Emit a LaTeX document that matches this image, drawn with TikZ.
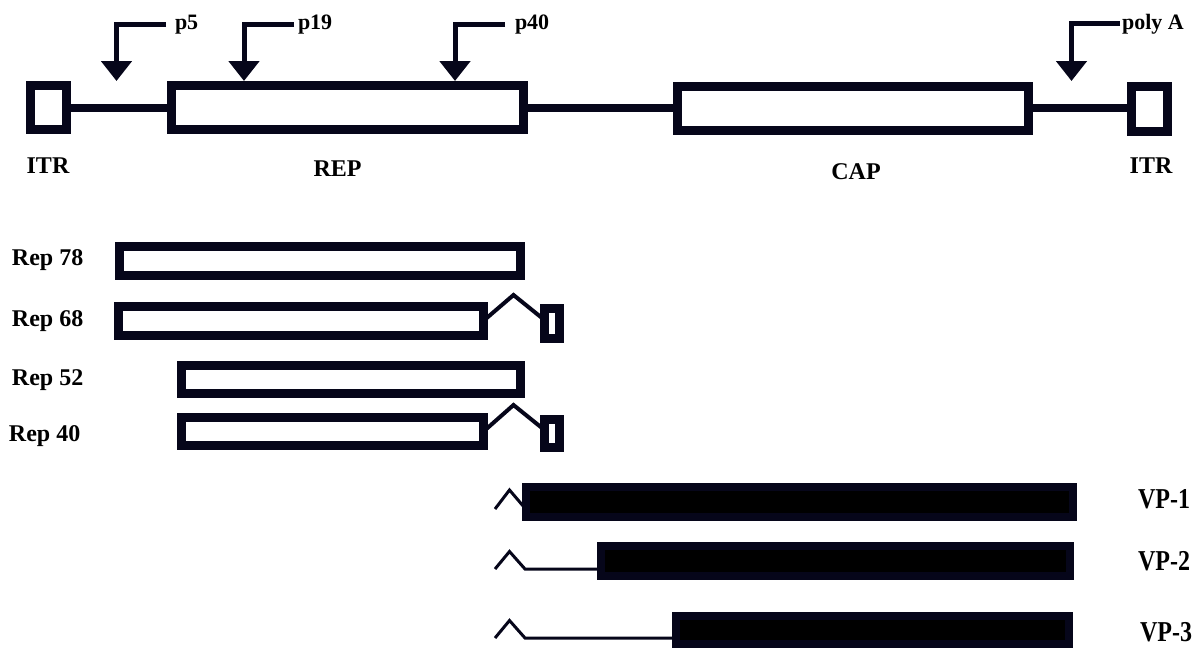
\documentclass[tikz,border=0pt]{standalone}
\usepackage{fontspec}
\setmainfont{Liberation Serif}
\usepackage{graphicx}
\usetikzlibrary{arrows.meta,calc}
\definecolor{ink}{RGB}{6,6,26}
\begin{document}
\begin{tikzpicture}[x=1pt,y=-1pt,
  box/.style={draw=ink,line width=9pt,inner sep=0pt,outer sep=0pt},
  vbox/.style={draw=ink,fill=black,line width=8pt,inner sep=0pt,outer sep=0pt},
  lbl/.style={inner sep=0pt,outer sep=0pt,font=\fontsize{24}{28}\selectfont\bfseries,text=black},
  plbl/.style={lbl,font=\fontsize{22}{26}\selectfont\bfseries},
  lnk/.style={draw=ink,line width=8pt},
  prom/.style={draw=ink,line width=5pt,-{Triangle[length=20pt,width=30pt]}},
  splice/.style={draw=ink,line width=4pt},
  vsplice/.style={draw=ink,line width=3pt}]
\useasboundingbox (0,0) rectangle (1198,649);

% ---- genome map ----
\node[box,minimum width=36pt,minimum height=44pt] (itrL) at (48.5,107.5) {};
\node[box,minimum width=352pt,minimum height=44pt] (rep) at (347.5,107.5) {};
\node[box,minimum width=351pt,minimum height=44pt] (cap) at (853,108) {};
\node[box,minimum width=36pt,minimum height=45pt] (itrR) at (1149.5,109) {};
\draw[lnk] (itrL.east) -- (rep.west);
\draw[lnk] (rep.east) -- (cap.west |- rep.east);
\draw[lnk] (cap.east) -- (itrR.west |- cap.east);

\node[lbl,anchor=base] (itrLl) at (48,173) {ITR};
\node[lbl,anchor=base] (repl) at (337.5,176.5) {REP};
\node[lbl,anchor=base] (capl) at (856,179) {CAP};
\node[lbl,anchor=base] (itrRl) at (1151,173) {ITR};

% ---- promoters ----
\coordinate (p5t) at (116.5,81);
\coordinate (p19t) at (244,81);
\coordinate (p40t) at (455,81);
\coordinate (pAt) at (1071.5,81);
\node[plbl,anchor=base west] (p5) at (175,29) {p5};
\node[plbl,anchor=base west] (p19) at (298,29) {p19};
\node[plbl,anchor=base west] (p40) at (515,29) {p40};
\node[plbl,anchor=base west] (pA) at (1122,29) {poly A};
\draw[prom] ([xshift=-9pt]p5.west) -| (p5t);
\draw[prom] ([xshift=-4pt]p19.west) -| (p19t);
\draw[prom] ([xshift=-10pt]p40.west) -| (p40t);
\draw[prom] ([xshift=-2pt]pA.west) -| (pAt);

% ---- Rep proteins ----
\node[box,minimum width=401pt,minimum height=29pt] (r78) at (320,260.5) {};
\node[box,minimum width=365pt,minimum height=29.5pt] (r68) at (301,320.75) {};
\node[box,minimum width=15pt,minimum height=29.5pt] (r68x) at (552,323.4) {};
\coordinate (r68p) at (513.5,295);
\draw[splice] (r68.east) -- (r68p) -- ($(r68x.west)+(0,-3.4)$);
\node[box,minimum width=339pt,minimum height=28.5pt] (r52) at (351,379.5) {};
\node[box,minimum width=302pt,minimum height=28.5pt] (r40) at (332.5,431.5) {};
\node[box,minimum width=15pt,minimum height=28pt] (r40x) at (552,433.5) {};
\coordinate (r40p) at (513.5,405);
\draw[splice] (r40.east) -- (r40p) -- ($(r40x.west)+(0,-3.5)$);

\node[lbl,anchor=base west] (l78) at (12,265) {Rep 78};
\node[lbl,anchor=base west] (l68) at (12,326.7) {Rep 68};
\node[lbl,anchor=base west] (l52) at (12,385) {Rep 52};
\node[lbl,anchor=base west] (l40) at (9,441.7) {Rep 40};

% ---- VP proteins ----
\node[vbox,minimum width=547pt,minimum height=29.5pt] (vp1) at (799.2,502) {};
\node[vbox,minimum width=468.7pt,minimum height=30.3pt] (vp2) at (835.65,560.85) {};
\node[vbox,minimum width=393.6pt,minimum height=28.3pt] (vp3) at (872.5,629.85) {};

\coordinate (v1s) at (495,509);
\coordinate (v1p) at (509.5,490);
\draw[vsplice] (v1s) -- (v1p) -- (v1s -| vp1.west);
\coordinate (v2s) at (495,569);
\coordinate (v2p) at (509.5,551.5);
\draw[vsplice] (v2s) -- (v2p) -- ++(15.5,17.5) -- (v2s -| vp2.west);
\coordinate (v3s) at (495,638);
\coordinate (v3p) at (509.5,620.5);
\draw[vsplice] (v3s) -- (v3p) -- ++(15.5,17.5) -- (v3s -| vp3.west);

\node[lbl,anchor=base west] (vl1) at (1138,508) {\scalebox{1}[1.2]{VP-1}};
\node[lbl,anchor=base west] (vl2) at (1138,570) {\scalebox{1}[1.2]{VP-2}};
\node[lbl,anchor=base west] (vl3) at (1140,641) {\scalebox{1}[1.2]{VP-3}};
\end{tikzpicture}
\end{document}
